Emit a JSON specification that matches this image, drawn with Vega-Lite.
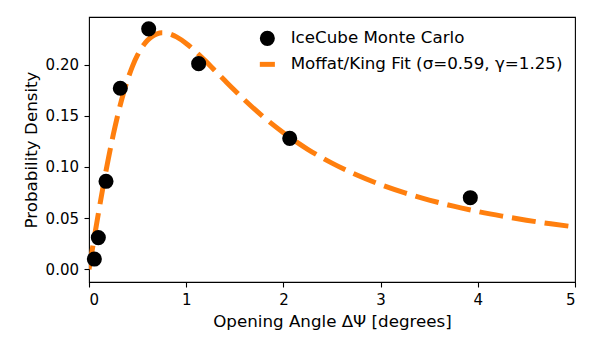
{
  "$schema": "https://vega.github.io/schema/vega-lite/v6.json",
  "width": 486,
  "height": 265,
  "autosize": {"type": "none"},
  "padding": {"left": 89, "top": 17, "right": 18, "bottom": 74},
  "background": "white",
  "config": {
    "font": "DejaVu Sans",
    "view": {"stroke": "black", "strokeWidth": 1.1},
    "axis": {
      "domain": false,
      "grid": false,
      "tickColor": "black",
      "tickSize": 5,
      "tickWidth": 1.1,
      "labelColor": "black",
      "labelFontSize": 15,
      "labelPadding": 5.5,
      "titleColor": "black",
      "titleFontSize": 16.7,
      "titleFontWeight": "normal"
    }
  },
  "datasets": {
    "mc": [
      {"angle": 0.055, "density": 0.010, "series": "IceCube Monte Carlo"},
      {"angle": 0.096, "density": 0.031, "series": "IceCube Monte Carlo"},
      {"angle": 0.175, "density": 0.086, "series": "IceCube Monte Carlo"},
      {"angle": 0.322, "density": 0.177, "series": "IceCube Monte Carlo"},
      {"angle": 0.614, "density": 0.235, "series": "IceCube Monte Carlo"},
      {"angle": 1.128, "density": 0.201, "series": "IceCube Monte Carlo"},
      {"angle": 2.065, "density": 0.128, "series": "IceCube Monte Carlo"},
      {"angle": 3.923, "density": 0.070, "series": "IceCube Monte Carlo"}
    ],
    "fit": [
      {"angle": 0.0, "density": 0.0},
      {"angle": 0.025, "density": 0.0144},
      {"angle": 0.05, "density": 0.0286},
      {"angle": 0.1, "density": 0.0566},
      {"angle": 0.15, "density": 0.0835},
      {"angle": 0.2, "density": 0.1086},
      {"angle": 0.25, "density": 0.1317},
      {"angle": 0.3, "density": 0.1524},
      {"angle": 0.35, "density": 0.1706},
      {"angle": 0.4, "density": 0.1861},
      {"angle": 0.45, "density": 0.1991},
      {"angle": 0.5, "density": 0.2095},
      {"angle": 0.55, "density": 0.2176},
      {"angle": 0.6, "density": 0.2236},
      {"angle": 0.65, "density": 0.2277},
      {"angle": 0.7, "density": 0.2301},
      {"angle": 0.75, "density": 0.2311},
      {"angle": 0.8, "density": 0.2308},
      {"angle": 0.85, "density": 0.2294},
      {"angle": 0.9, "density": 0.2272},
      {"angle": 1.0, "density": 0.2208},
      {"angle": 1.1, "density": 0.2126},
      {"angle": 1.2, "density": 0.2035},
      {"angle": 1.3, "density": 0.1938},
      {"angle": 1.4, "density": 0.1842},
      {"angle": 1.5, "density": 0.1747},
      {"angle": 1.6, "density": 0.1655},
      {"angle": 1.8, "density": 0.1485},
      {"angle": 2.0, "density": 0.1335},
      {"angle": 2.25, "density": 0.1173},
      {"angle": 2.5, "density": 0.1038},
      {"angle": 2.75, "density": 0.0924},
      {"angle": 3.0, "density": 0.0828},
      {"angle": 3.25, "density": 0.0747},
      {"angle": 3.5, "density": 0.0677},
      {"angle": 3.75, "density": 0.0617},
      {"angle": 4.0, "density": 0.0565},
      {"angle": 4.25, "density": 0.0520},
      {"angle": 4.5, "density": 0.0480},
      {"angle": 4.75, "density": 0.0445},
      {"angle": 5.0, "density": 0.0414}
    ]
  },
  "layer": [
    {
      "data": {"name": "fit"},
      "mark": {"type": "line", "color": "#ff7f0e", "strokeWidth": 5, "strokeDash": [24, 9], "strokeCap": "butt", "interpolate": "monotone", "clip": true},
      "encoding": {
        "x": {"field": "angle", "type": "quantitative"},
        "y": {"field": "density", "type": "quantitative"}
      }
    },
    {
      "data": {"name": "mc"},
      "mark": {"type": "point", "filled": true, "opacity": 1, "size": 227, "strokeWidth": 0},
      "encoding": {
        "x": {
          "field": "angle", "type": "quantitative",
          "scale": {"domain": [0, 5], "nice": false, "zero": false},
          "axis": {"values": [0, 1, 2, 3, 4, 5], "format": "d", "title": "Opening Angle ΔΨ [degrees]", "titlePadding": 6}
        },
        "y": {
          "field": "density", "type": "quantitative",
          "scale": {"domain": [-0.0124, 0.2466], "nice": false, "zero": false},
          "axis": {"values": [0, 0.05, 0.1, 0.15, 0.2], "format": ".2f", "title": "Probability Density", "titlePadding": 5}
        },
        "color": {
          "field": "series", "type": "nominal",
          "scale": {"domain": ["IceCube Monte Carlo", "Moffat/King Fit (σ=0.59, γ=1.25)"], "range": ["black", "#ff7f0e"]},
          "legend": {
            "title": null,
            "orient": "none",
            "legendX": 170,
            "legendY": 13,
            "labelFontSize": 16.7,
            "labelColor": "black",
            "labelOffset": 15,
            "labelLimit": 400,
            "symbolSize": 227,
            "symbolStrokeWidth": 0,
            "rowPadding": 8
          }
        },
        "shape": {
          "field": "series", "type": "nominal",
          "scale": {"domain": ["IceCube Monte Carlo", "Moffat/King Fit (σ=0.59, γ=1.25)"], "range": ["circle", "M-1,-0.33H1V0.33H-1Z"]},
          "legend": null
        }
      }
    }
  ]
}
